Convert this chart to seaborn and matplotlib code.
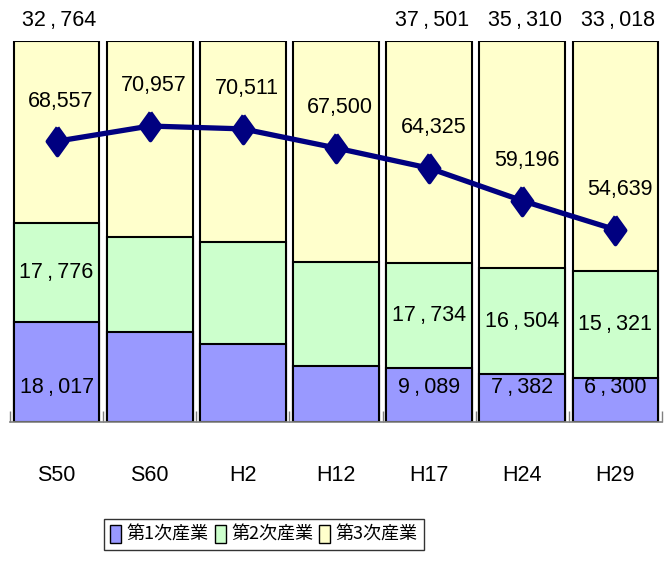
import numpy as np
import pandas as pd
import matplotlib
matplotlib.use("Agg")
import matplotlib.pyplot as plt
import seaborn as sns
from matplotlib.patches import Patch
from matplotlib.ticker import FixedLocator

# ---- data ----
periods = ["S50", "S60", "H2", "H12", "H17", "H24", "H29"]
primary = [18017, 16703, 14434, 9923, 9089, 7382, 6300]
secondary = [17776, 17785, 18939, 18482, 17734, 16504, 15321]
tertiary = [32764, 36469, 37138, 39095, 37501, 35310, 33018]
totals = [68557, 70957, 70511, 67500, 64325, 59196, 54639]
show_segment_labels = [True, False, False, False, True, True, True]
series_names = ["第1次産業", "第2次産業", "第3次産業"]

colors = ["#9999FF", "#CCFFCC", "#FFFFCC"]
line_color = "#000080"

sns.set_theme(style="white")
plt.rcParams["font.family"] = ["Liberation Sans", "DejaVu Sans"]
plt.rcParams["text.color"] = "black"
plt.rcParams["xtick.labelcolor"] = "black"
plt.rcParams["xtick.color"] = "black"

df = pd.DataFrame({
    "period": periods,
    "primary": primary,
    "secondary": secondary,
    "tertiary": tertiary,
    "total": totals,
})
df["p_share"] = df["primary"] / df["total"]
df["ps_share"] = (df["primary"] + df["secondary"]) / df["total"]
df["all_share"] = 1.0


def spaced(v):
    return f"{v:,}".replace(",", "\u2009,\u2009")


fig = plt.figure(figsize=(6.64, 5.64), dpi=100)
ax = fig.add_axes([10 / 664, (564 - 422) / 564, 652 / 664, 381 / 564])

bw = 0.92
for col, c in zip(["all_share", "ps_share", "p_share"], colors[::-1]):
    sns.barplot(data=df, x="period", y=col, color=c, width=bw, ax=ax,
                edgecolor="black", linewidth=1.5, saturation=1, zorder=2)

ax.set_ylim(0, 1)
ax.set_xlim(-0.5, len(periods) - 0.5)
ax.set_ylabel("")
ax.set_xlabel("")
ax.set_yticks([])
for s in ["top", "left", "right"]:
    ax.spines[s].set_visible(False)
ax.spines["bottom"].set_color("#808080")
ax.spines["bottom"].set_linewidth(1.2)
ax.tick_params(axis="x", which="major", length=0, pad=31, labelsize=15.5,
               labelcolor="black")
ax.xaxis.set_minor_locator(FixedLocator(np.arange(-0.5, len(periods), 1.0)))
ax.tick_params(axis="x", which="minor", direction="in", length=8, width=1,
               color="#808080", bottom=True)

num_fs = 15.5
for i in range(len(periods)):
    if show_segment_labels[i]:
        ax.text(i, 0.09, spaced(primary[i]), ha="center",
                va="center", fontsize=num_fs, zorder=5, color="black")
        ymid = (df["p_share"][i] + df["ps_share"][i]) / 2
        ax.text(i, ymid, spaced(secondary[i]), ha="center",
                va="center", fontsize=num_fs, zorder=5, color="black")
        ax.annotate(spaced(tertiary[i]), xy=(i, 1.0),
                    xytext=(2, 15), textcoords="offset points", ha="center",
                    va="center", fontsize=num_fs, annotation_clip=False,
                    color="black")

# ---- total line on secondary axis ----
ax2 = ax.twinx()
diamond = [(0, 1), (0.72, 0), (0, -1), (-0.72, 0), (0, 1)]
sns.pointplot(data=df, x="period", y="total", ax=ax2, color=line_color,
              markers=diamond, linestyles="-", markersize=20, linewidth=3.8,
              errorbar=None)
ax2.set_ylim(24350, 84350)
ax2.set_xlim(-0.5, len(periods) - 0.5)
ax2.set_yticks([])
ax2.set_ylabel("")
ax2.set_xlabel("")
for s in ax2.spines.values():
    s.set_visible(False)
for i, v in enumerate(totals):
    ax2.annotate(f"{v:,}", xy=(i, v), xytext=(3, 29), textcoords="offset points",
                 ha="center", va="center", fontsize=num_fs, color="black")

handles = [Patch(facecolor=c, edgecolor="black", linewidth=1) for c in colors]
leg = fig.legend(handles, series_names, loc="upper center",
                 bbox_to_anchor=(264 / 664, (564 - 519) / 564), ncol=3,
                 frameon=True, fancybox=False, edgecolor="black",
                 prop={"family": ["Noto Sans CJK JP", "DejaVu Sans"], "size": 13},
                 handlelength=0.6, handleheight=1.1, handletextpad=0.3,
                 columnspacing=0.35, borderpad=0.35, borderaxespad=0)
leg.get_frame().set_linewidth(1)
for t in leg.get_texts():
    t.set_color("black")

fig.savefig("out.png", dpi=100)
